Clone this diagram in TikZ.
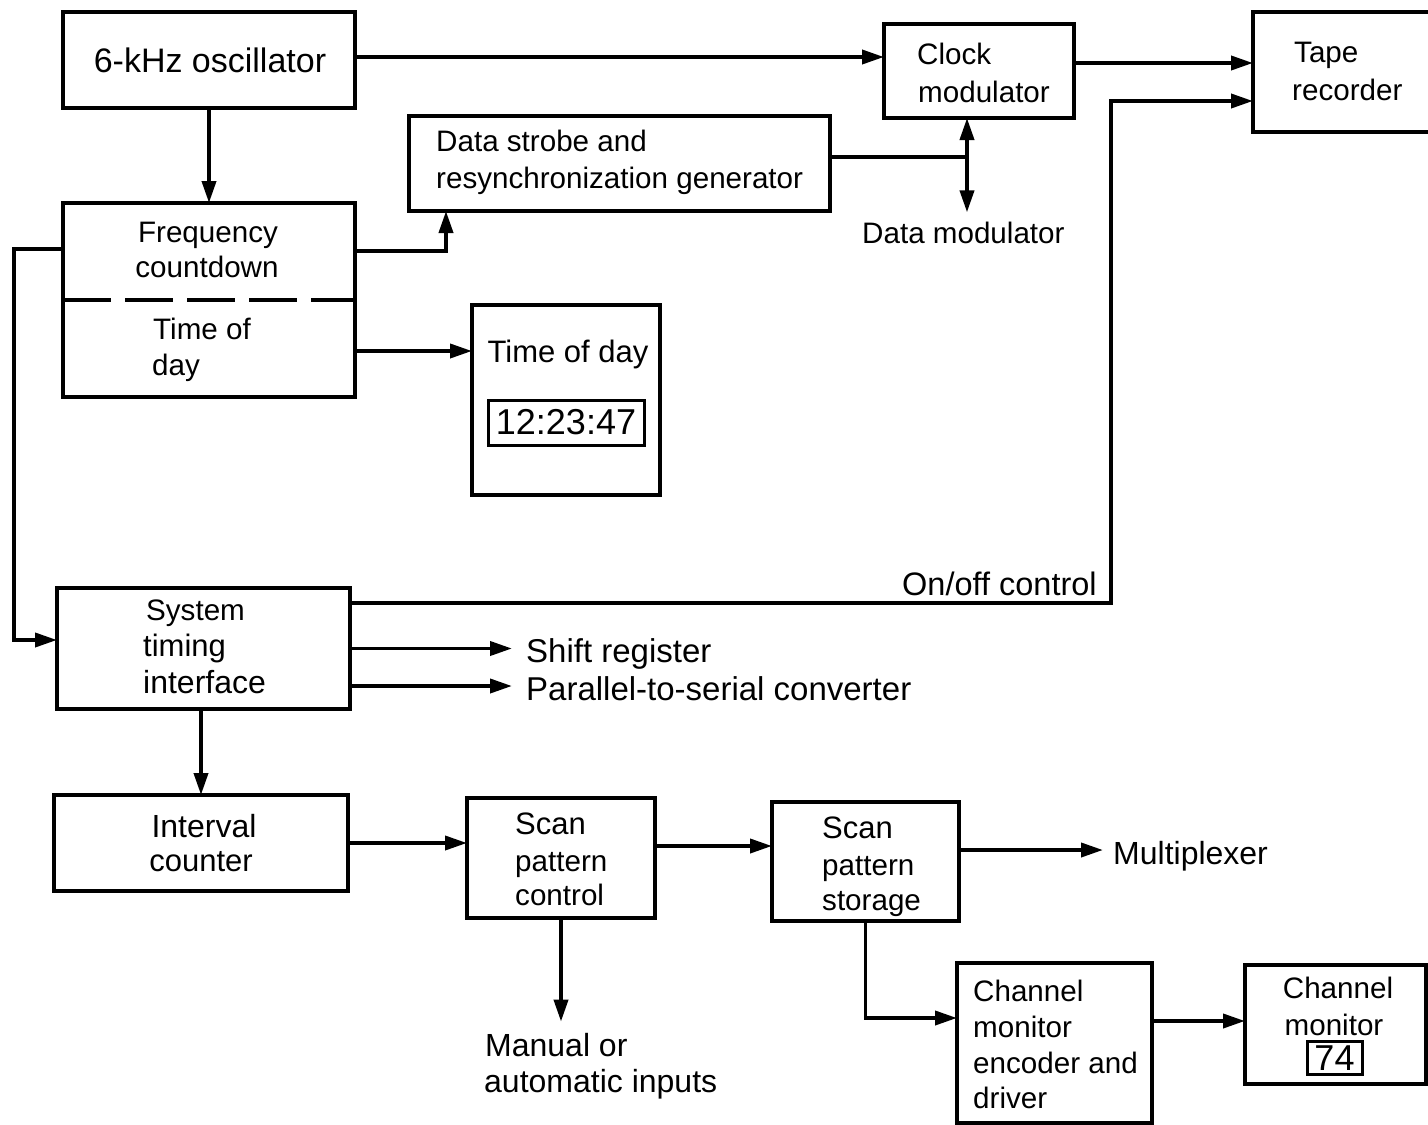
\documentclass[tikz,border=0pt]{standalone}
\usepackage{fontspec}
\setmainfont{Liberation Sans}
\usetikzlibrary{arrows.meta,calc}
\begin{document}
\begin{tikzpicture}[x=1pt,y=-1pt,
  box/.style={draw, line width=3.6pt, rectangle, inner sep=0pt, outer sep=0pt},
  lbl/.style={inner sep=0pt, font=\fontsize{29.6}{36}\selectfont},
  fs/.style={font=\fontsize{#1}{36}\selectfont},
  lw/.style={lbl, anchor=base west},
  lc/.style={lbl, anchor=base},
  conn/.style={line width=3.8pt},
  arr/.style={conn, -{Triangle[length=22pt,width=14pt]}},
  dispbox/.style={box, line width=3pt, font=\fontsize{36}{40}\selectfont},
]
\useasboundingbox (0,0) rectangle (1428,1125);

% ---------- boxes ----------
\node[box, minimum width=292pt, minimum height=96pt]  (osc)    at (209,60) {};
\node[box, minimum width=190pt, minimum height=94pt]  (clock)  at (979,71) {};
\node[box, minimum width=197pt, minimum height=120pt] (tape)   at (1351.5,72) {};
\node[box, minimum width=421pt, minimum height=95pt]  (strobe) at (619.5,163.5) {};
\node[box, minimum width=292pt, minimum height=194pt] (freq)   at (209,300) {};
\node[box, minimum width=188pt, minimum height=190pt] (tod)    at (566,400) {};
\node[box, minimum width=293pt, minimum height=121pt] (sti)    at (203.5,648.5) {};
\node[box, minimum width=294pt, minimum height=96pt]  (ic)     at (201,843) {};
\node[box, minimum width=188pt, minimum height=120pt] (spc)    at (561,858) {};
\node[box, minimum width=187pt, minimum height=119pt] (sps)    at (865.5,861.5) {};
\node[box, minimum width=195pt, minimum height=160pt] (cme)    at (1054.5,1043) {};
\node[box, minimum width=181pt, minimum height=119pt] (cm)     at (1335.5,1024.5) {};

% displays
\node[dispbox, minimum width=156pt, minimum height=45pt] (todd) at (566,422.5) {12:23:47};
\node[dispbox, minimum width=55pt, minimum height=33pt]  (cmd)  at (1334.5,1058) {74};

% dashed divider in frequency countdown box
\draw[line width=3.6pt, dash pattern=on 48pt off 14pt] (freq.west) -- (freq.east);

% ---------- texts ----------
\node[lc, fs=34] (osct)  at (210,72)  {6-kHz oscillator};
\node[lw] (clk1)  at (917,64)  {Clock};
\node[lw] (clk2)  at (918,102) {modulator};
\node[lw] (tape1) at (1294,62) {Tape};
\node[lw] (tape2) at (1292,100) {recorder};
\node[lw] (str1)  at (436,151) {Data strobe and};
\node[lw] (str2)  at (436,188) {resynchronization generator};
\node[lw] (dm)    at (862,243) {Data modulator};
\node[lc] (fr1)   at (208,242) {Frequency};
\node[lc] (fr2)   at (207,277) {countdown};
\node[lw] (td1)   at (153,339) {Time of};
\node[lw] (td2)   at (152,375) {day};
\node[lc, fs=31] (tdt)   at (568,362) {Time of day};
\node[lw] (st1)   at (146,620) {System};
\node[lw, fs=31] (st2)   at (143,656) {timing};
\node[lw, fs=32] (st3)   at (143,693) {interface};
\node[lw, fs=32.5] (onoff) at (902,595) {On/off control};
\node[lw, fs=33] (sr)    at (526,662) {Shift register};
\node[lw, fs=33] (psc)   at (526,700) {Parallel-to-serial converter};
\node[lc, fs=32] (ic1)   at (204,837) {Interval};
\node[lc, fs=31] (ic2)   at (201,871) {counter};
\node[lw, fs=31] (sc1)   at (515,834) {Scan};
\node[lw] (sc2)   at (515,871) {pattern};
\node[lw] (sc3)   at (515,905) {control};
\node[lw, fs=31] (ss1)   at (822,838) {Scan};
\node[lw] (ss2)   at (822,875) {pattern};
\node[lw] (ss3)   at (822,910) {storage};
\node[lw, fs=32] (mux)   at (1113,864) {Multiplexer};
\node[lw, fs=32] (man1)  at (485,1056) {Manual or};
\node[lw, fs=32] (man2)  at (484,1092) {automatic inputs};
\node[lw] (ce1)   at (973,1001) {Channel};
\node[lw] (ce2)   at (973,1037) {monitor};
\node[lw] (ce3)   at (973,1073) {encoder and};
\node[lw] (ce4)   at (973,1108) {driver};
\node[lc] (cm1)   at (1338,998) {Channel};
\node[lc] (cm2)   at (1334,1035) {monitor};

% ---------- connectors ----------
% oscillator -> clock modulator
\coordinate (p1) at ([yshift=3pt]osc.east);
\draw[arr] (p1) -- (p1 -| clock.west);
% clock modulator -> tape recorder
\coordinate (p2) at ([yshift=8pt]clock.east);
\draw[arr] (p2) -- (p2 -| tape.west);
% on/off control -> tape recorder
\coordinate (p3) at ([yshift=-15pt]sti.north east);
\coordinate (ctl) at (1111,101);
\draw[arr] (p3) -- (p3 -| ctl) -- (ctl) -- (ctl -| tape.west);
% data strobe -> junction, double arrow clock / data modulator
\coordinate (jn) at ([xshift=-12pt]clock.south);
\coordinate (p4) at ([yshift=6.5pt]strobe.east);
\draw[conn] (p4) -- (p4 -| jn);
\coordinate (p5) at ([yshift=9pt]dm.north);
\draw[conn, {Triangle[length=22pt,width=14pt]}-{Triangle[length=22pt,width=14pt]}] (jn) -- (jn |- p5);
% oscillator -> frequency countdown
\draw[arr] (osc.south) -- (freq.north);
% frequency countdown -> data strobe
\coordinate (p6) at ([yshift=49pt]freq.east);
\coordinate (p7) at ([xshift=-173.5pt]strobe.south);
\draw[arr] (p6) -| (p7);
% time of day -> display
\coordinate (p8) at ([yshift=-51pt]freq.east);
\draw[arr] (p8) -- (p8 -| tod.west);
% loop to system timing interface
\coordinate (p9) at ([yshift=51pt]freq.west);
\coordinate (lx) at (14,0);
\coordinate (p10) at ([yshift=8.5pt]sti.west);
\draw[arr] (p9) -- (p9 -| lx) |- (p10);
% system timing -> shift register / parallel-to-serial
\draw[arr, shorten >=14pt] (sti.east) -- (sti.east -| sr.west);
\coordinate (p11) at ([yshift=-37.5pt]sti.east);
\draw[arr, shorten >=14pt] (p11) -- (p11 -| psc.west);
% system timing -> interval counter
\draw[arr] (ic.north |- sti.south) -- (ic.north);
% interval counter -> scan pattern control
\draw[arr] (ic.east) -- (ic.east -| spc.west);
% scan pattern control -> manual inputs
\coordinate (p12) at ([yshift=11pt]man1.north);
\draw[arr] (spc.south) -- (spc.south |- p12);
% scan pattern control -> storage
\coordinate (p13) at ([yshift=12pt]spc.east);
\draw[arr] (p13) -- (p13 -| sps.west);
% storage -> multiplexer
\coordinate (p14) at ([yshift=11.5pt]sps.east);
\draw[arr, shorten >=10pt] (p14) -- (p14 -| mux.west);
% storage -> channel monitor encoder
\coordinate (p15) at ([yshift=25pt]cme.west);
\draw[arr] (sps.south) |- (p15);
% encoder -> channel monitor
\coordinate (p16) at ([yshift=22pt]cme.east);
\draw[arr] (p16) -- (p16 -| cm.west);
\end{tikzpicture}
\end{document}
